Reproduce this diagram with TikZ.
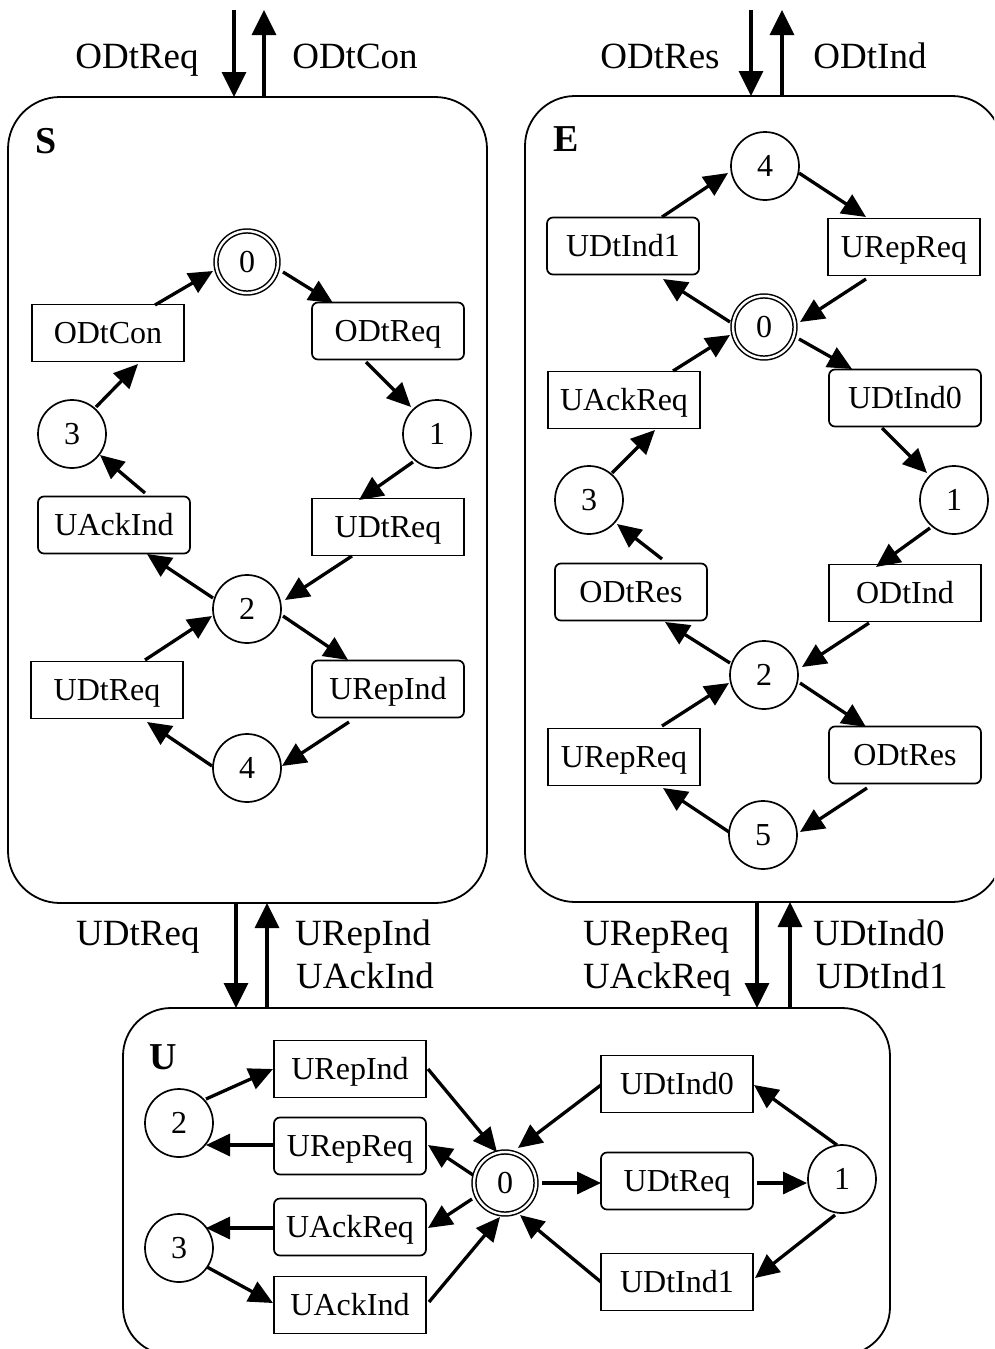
\documentclass[tikz,border=0pt]{standalone}
\usepackage{fontspec}
\setmainfont{Liberation Serif}
\usetikzlibrary{arrows.meta,calc}
\begin{document}
\begin{tikzpicture}[x=1pt,y=-1pt,
  cluster/.style={draw,line width=1.8pt},
  st/.style={circle,draw,line width=1.7pt,minimum size=68pt,inner sep=0pt,
    font=\fontsize{32}{36}\selectfont,text height=21.5pt,text depth=0pt},
  acc/.style={circle,draw,line width=1.5pt,double,double distance=2.4pt,minimum size=62pt,inner sep=0pt,
    font=\fontsize{32}{36}\selectfont,text height=21.5pt,text depth=0pt},
  sbox/.style={draw,line width=1.7pt,minimum width=152pt,minimum height=57pt,inner sep=0pt,
    font=\fontsize{32}{36}\selectfont,text height=21pt,text depth=0pt},
  rbox/.style={sbox,rounded corners=6pt},
  lab/.style={inner sep=0pt,font=\fontsize{37}{40}\selectfont},
  ttl/.style={inner sep=0pt,font=\fontsize{38}{40}\selectfont\bfseries},
  edge/.style={line width=3.3pt,-{Triangle[length=24pt,width=22pt]}},
  bigedge/.style={line width=3.5pt,-{Triangle[length=25pt,width=24pt]}}
]
\useasboundingbox (0,0) rectangle (994,1349);
\clip (0,0) rectangle (994,1349);

% clusters
\draw[cluster,rounded corners=52pt] (8,97) rectangle (487,903);
\draw[cluster,rounded corners=50pt] (525,96) rectangle (1002,902);
\draw[cluster,rounded corners=48pt] (123,1008) rectangle (890,1355);
\node[ttl] (tS) at (46,141) {S};
\node[ttl] (tE) at (566,139) {E};
\node[ttl] (tU) at (163,1057) {U};

% interface coordinates
\coordinate (sTa) at (234,10);  \coordinate (sTb) at (234,97);
\coordinate (sTc) at (264,97);  \coordinate (sTd) at (264,10);
\coordinate (eTa) at (751,10);  \coordinate (eTb) at (751,96);
\coordinate (eTc) at (782,96);  \coordinate (eTd) at (782,10);
\coordinate (sBa) at (236,903); \coordinate (uTa) at (236,1008);
\coordinate (uTb) at (267,1008);\coordinate (sBb) at (267,903);
\coordinate (eBa) at (757,902); \coordinate (uTc) at (757,1008);
\coordinate (uTd) at (790,1008);\coordinate (eBb) at (790,902);
\draw[bigedge] (sTa) -- (sTb);
\draw[bigedge] (sTc) -- (sTd);
\draw[bigedge] (eTa) -- (eTb);
\draw[bigedge] (eTc) -- (eTd);
\draw[bigedge] (sBa) -- (uTa);
\draw[bigedge] (uTb) -- (sBb);
\draw[bigedge] (eBa) -- (uTc);
\draw[bigedge] (uTd) -- (eBb);

% interface labels
\node[lab,anchor=base] (l1) at (137,68) {ODtReq};
\node[lab,anchor=base] (l2) at (355,68) {ODtCon};
\node[lab,anchor=base] (l3) at (660,68) {ODtRes};
\node[lab,anchor=base] (l4) at (870,68) {ODtInd};
\node[lab,anchor=base west] (l5) at (76,945) {UDtReq};
\node[lab,anchor=base west] (l6) at (295,945) {URepInd};
\node[lab,anchor=base west] (l7) at (296,988) {UAckInd};
\node[lab,anchor=base west] (l8) at (583,945) {URepReq};
\node[lab,anchor=base west] (l9) at (583,988) {UAckReq};
\node[lab,anchor=base west] (l10) at (813,945) {UDtInd0};
\node[lab,anchor=base west] (l11) at (816,988) {UDtInd1};

% ---------- S ----------
\node[acc] (s0) at (247,262) {0};
\node[sbox] (sA) at (108,333) {ODtCon};
\node[rbox] (sB) at (388,331) {ODtReq};
\node[st] (s3) at (72,434) {3};
\node[st] (s1) at (437,434) {1};
\node[rbox] (sC) at (114,525) {UAckInd};
\node[sbox] (sD) at (388,527) {UDtReq};
\node[st] (s2) at (247,609) {2};
\node[sbox] (sE) at (107,690) {UDtReq};
\node[rbox] (sF) at (388,689) {URepInd};
\node[st] (s4) at (247,768) {4};

\draw[edge] ($(sA.center)+(47,-28)$) -- ($(s0.center)+(-34,9)$);
\draw[edge] ($(s0.center)+(36,10)$) -- ($(sB.center)+(-55,-28)$);
\draw[edge] ($(sB.center)+(-22,31)$) -- ($(s1.center)+(-26,-27)$);
\draw[edge] ($(s3.center)+(24,-27)$) -- ($(sA.center)+(30,31)$);
\draw[edge] ($(s1.center)+(-24,28)$) -- ($(sD.center)+(-29,-27)$);
\draw[edge] ($(sC.center)+(31,-32)$) -- ($(s3.center)+(28,21)$);
\draw[edge] ($(sD.center)+(-36,29)$) -- ($(s2.center)+(38,-9)$);
\draw[edge] ($(s2.center)+(-34,-11)$) -- ($(sC.center)+(33,29)$);
\draw[edge] ($(sE.center)+(38,-30)$) -- ($(s2.center)+(-35,7)$);
\draw[edge] ($(s2.center)+(36,7)$) -- ($(sF.center)+(-40,-29)$);
\draw[edge] ($(sF.center)+(-39,33)$) -- ($(s4.center)+(35,-2)$);
\draw[edge] ($(s4.center)+(-35,-2)$) -- ($(sE.center)+(40,32)$);

% ---------- E ----------
\node[st] (e4) at (765,166) {4};
\node[rbox] (eA) at (623,246) {UDtInd1};
\node[sbox] (eB) at (904,247) {URepReq};
\node[acc] (e0) at (764,327) {0};
\node[sbox] (eC) at (624,400) {UAckReq};
\node[rbox] (eD) at (905,398) {UDtInd0};
\node[st] (e3) at (589,500) {3};
\node[st] (e1) at (954,500) {1};
\node[rbox] (eE) at (631,592) {ODtRes};
\node[sbox] (eF) at (905,593) {ODtInd};
\node[st] (e2) at (764,675) {2};
\node[sbox] (eG) at (624,757) {URepReq};
\node[rbox] (eH) at (905,755) {ODtRes};
\node[st] (e5) at (763,835) {5};

\draw[edge] ($(eA.center)+(39,-29)$) -- ($(e4.center)+(-37,7)$);
\draw[edge] ($(e4.center)+(34,7)$) -- ($(eB.center)+(-38,-30)$);
\draw[edge] ($(eB.center)+(-38,32)$) -- ($(e0.center)+(36,-5)$);
\draw[edge] ($(e0.center)+(-34,-5)$) -- ($(eA.center)+(40,33)$);
\draw[edge] ($(eC.center)+(49,-29)$) -- ($(e0.center)+(-34,8)$);
\draw[edge] ($(e0.center)+(35,12)$) -- ($(eD.center)+(-53,-29)$);
\draw[edge] ($(eD.center)+(-23,30)$) -- ($(e1.center)+(-27,-27)$);
\draw[edge] ($(e3.center)+(23,-27)$) -- ($(eC.center)+(31,30)$);
\draw[edge] ($(e1.center)+(-24,28)$) -- ($(eF.center)+(-29,-26)$);
\draw[edge] ($(eE.center)+(31,-33)$) -- ($(e3.center)+(28,24)$);
\draw[edge] ($(eF.center)+(-36,30)$) -- ($(e2.center)+(38,-8)$);
\draw[edge] ($(e2.center)+(-34,-12)$) -- ($(eE.center)+(34,30)$);
\draw[edge] ($(eG.center)+(38,-31)$) -- ($(e2.center)+(-35,8)$);
\draw[edge] ($(e2.center)+(36,8)$) -- ($(eH.center)+(-39,-28)$);
\draw[edge] ($(eH.center)+(-38,33)$) -- ($(e5.center)+(37,-3)$);
\draw[edge] ($(e5.center)+(-34,-3)$) -- ($(eG.center)+(39,31)$);

% ---------- U ----------
\node[sbox] (uA) at (350,1069) {URepInd};
\node[st] (u2) at (179,1123) {2};
\node[rbox] (uB) at (350,1146) {URepReq};
\node[acc] (u0) at (505,1183) {0};
\node[rbox] (uC) at (350,1227) {UAckReq};
\node[st] (u3) at (179,1248) {3};
\node[sbox] (uD) at (350,1305) {UAckInd};
\node[sbox] (uE) at (677,1084) {UDtInd0};
\node[rbox] (uF) at (677,1181) {UDtReq};
\node[st] (u1) at (842,1179) {1};
\node[sbox] (uG) at (677,1282) {UDtInd1};

\draw[edge] ($(u2.center)+(27,-24)$) -- ($(uA.center)+(-77,0)$);
\draw[edge] ($(uB.center)+(-76,-1)$) -- ($(u2.center)+(27,22)$);
\draw[edge] ($(uA.center)+(78,0)$) -- ($(u0.center)+(-8,-31)$);
\draw[edge] ($(u0.center)+(-32,-8)$) -- ($(uB.center)+(78,-1)$);
\draw[edge] ($(u0.center)+(-33,16)$) -- ($(uC.center)+(78,1)$);
\draw[edge] ($(uC.center)+(-76,1)$) -- ($(u3.center)+(27,-20)$);
\draw[edge] ($(u3.center)+(28,19)$) -- ($(uD.center)+(-77,-2)$);
\draw[edge] ($(uD.center)+(79,-3)$) -- ($(u0.center)+(-5,34)$);
\draw[edge] ($(uE.center)+(-76,1)$) -- ($(u0.center)+(13,-35)$);
\draw[edge] ($(u0.center)+(37,0)$) -- ($(uF.center)+(-76,2)$);
\draw[edge] ($(uF.center)+(80,2)$) -- ($(u1.center)+(-35,4)$);
\draw[edge] ($(u1.center)+(-5,-34)$) -- ($(uE.center)+(77,1)$);
\draw[edge] ($(u1.center)+(-7,36)$) -- ($(uG.center)+(78,-4)$);
\draw[edge] ($(uG.center)+(-76,0)$) -- ($(u0.center)+(15,32)$);
\end{tikzpicture}
\end{document}
